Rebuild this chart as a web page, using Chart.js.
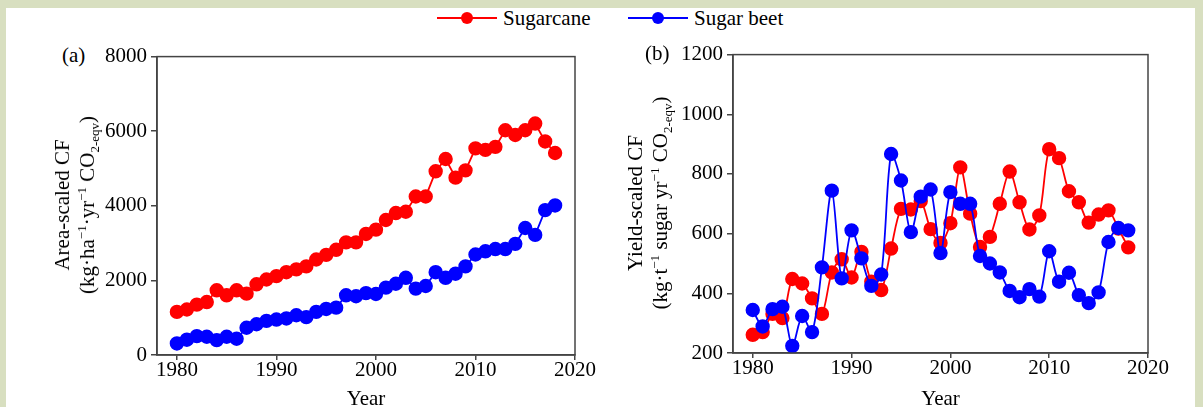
<!DOCTYPE html>
<html><head><meta charset="utf-8">
<script src="https://cdn.jsdelivr.net/npm/chart.js@4.4.0/dist/chart.umd.min.js"></script>
<style>
html,body{margin:0;padding:0;}
body{width:1203px;height:407px;background:#d8dfc0;position:relative;overflow:hidden;font-family:'Liberation Serif','Times New Roman',serif;color:#000;}
#panel{position:absolute;left:6px;top:8px;width:1189px;height:399px;background:#fff;}
.cv{position:absolute;}
.ytitle{position:absolute;transform:translate(-50%,-50%) rotate(-90deg);white-space:nowrap;text-align:center;font-size:21px;line-height:25px;}
sup,sub{font-size:0.62em;line-height:0;}
.lab{position:absolute;font-size:21px;line-height:24px;white-space:nowrap;}
.lline{position:absolute;height:2px;}
.ldot{position:absolute;width:12px;height:12px;border-radius:50%;}
</style></head>
<body>
<div id="panel"></div>
<div class="cv" style="left:90px;top:40px;width:510px;height:372px;"><canvas id="ca"></canvas></div>
<div class="cv" style="left:665px;top:38px;width:508px;height:374px;"><canvas id="cb"></canvas></div>

<div class="lline" style="left:437px;top:17px;width:60px;background:#ff0000;"></div>
<div class="ldot" style="left:461px;top:12px;background:#ff0000;"></div>
<div class="lab" style="left:503px;top:6px;">Sugarcane</div>
<div class="lline" style="left:628px;top:17px;width:60px;background:#0000ff;"></div>
<div class="ldot" style="left:652px;top:12px;background:#0000ff;"></div>
<div class="lab" style="left:694px;top:6px;">Sugar beet</div>

<div class="lab" style="left:62px;top:43px;">(a)</div>
<div class="lab" style="left:645px;top:41px;">(b)</div>

<div class="ytitle" style="left:75px;top:205px;">Area-scaled CF<br>(kg·ha<sup>−1</sup>·yr<sup>−1</sup> CO<sub>2-eqv</sub>)</div>
<div class="ytitle" style="left:648px;top:203px;">Yield-scaled CF<br>(kg·t<sup>−1</sup> sugar yr<sup>−1</sup> CO<sub>2-eqv</sub>)</div>

<script>
const years = [1980,1981,1982,1983,1984,1985,1986,1987,1988,1989,1990,1991,1992,1993,1994,1995,1996,1997,1998,1999,2000,2001,2002,2003,2004,2005,2006,2007,2008,2009,2010,2011,2012,2013,2014,2015,2016,2017,2018];
const xTicks = [1980,1990,2000,2010,2020];
const areaSugarcane = [1155,1220,1350,1420,1735,1600,1735,1645,1895,2025,2115,2220,2295,2375,2560,2685,2820,3020,3020,3245,3360,3620,3805,3840,4250,4250,4925,5255,4755,4950,5540,5500,5580,6025,5900,6025,6205,5725,5415];
const areaBeet = [310,410,505,490,400,490,435,730,825,915,950,980,1065,1015,1155,1235,1270,1600,1575,1660,1635,1805,1910,2070,1780,1850,2220,2070,2180,2375,2695,2780,2840,2840,2980,3405,3220,3885,4010];
const yieldSugarcane = [261,270,331,317,448,433,383,331,470,514,453,539,439,411,550,683,681,709,615,569,635,822,667,555,589,700,808,705,614,661,883,853,742,705,637,664,678,617,554];
const yieldBeet = [344,289,347,355,224,324,270,487,744,450,611,517,425,463,867,778,605,724,748,535,739,700,700,525,500,470,408,387,414,389,541,439,469,394,367,403,572,619,611];

const RED = '#ff0000', BLUE = '#0000ff', AX = '#444444';
const FONT = {family:"'Liberation Serif','Times New Roman',serif", size:21};

const boxPlugin = {
  id:'box',
  afterDraw(chart){
    const {ctx, chartArea:a} = chart;
    ctx.save();
    ctx.strokeStyle = AX; ctx.lineWidth = 1.5;
    ctx.strokeRect(a.left, a.top, a.right-a.left, a.bottom-a.top);
    ctx.restore();
  }
};

function pts(arr){ return years.map((y,i)=>({x:y, y:arr[i]})); }

function makeChart(id, red, blue, yMin, yMax, yStep, tension, yW, xH, pad){
  return new Chart(document.getElementById(id), {
    type:'line',
    data:{datasets:[
      {label:'Sugar beet', data:pts(blue), borderColor:BLUE, backgroundColor:BLUE, pointBackgroundColor:BLUE, pointBorderColor:BLUE, pointRadius:6.3, pointHoverRadius:6.3, borderWidth:1.8, tension:tension, order:0},
      {label:'Sugarcane', data:pts(red), borderColor:RED, backgroundColor:RED, pointBackgroundColor:RED, pointBorderColor:RED, pointRadius:6.3, pointHoverRadius:6.3, borderWidth:1.8, tension:tension, order:1}
    ]},
    options:{
      responsive:true, maintainAspectRatio:false, animation:false,
      layout:{padding:pad},
      plugins:{legend:{display:false}, tooltip:{enabled:false}},
      scales:{
        x:{type:'linear', min:1978, max:2020,
          afterBuildTicks(s){ s.ticks = xTicks.map(v=>({value:v})); },
          afterFit(s){ s.height = xH; },
          grid:{display:true, drawOnChartArea:false, drawTicks:true, tickLength:5, color:AX, lineWidth:1.5},
          border:{display:true, color:AX, width:1.5},
          ticks:{color:'#000', font:FONT, padding:-2, maxRotation:0, autoSkip:false, callback:v=>String(v)},
          title:{display:true, text:'Year', color:'#000', font:FONT, padding:{top:0,bottom:0}}
        },
        y:{min:yMin, max:yMax,
          afterBuildTicks(s){ const t=[]; for(let v=yMin; v<=yMax; v+=yStep) t.push({value:v}); s.ticks=t; },
          afterFit(s){ s.width = yW; },
          grid:{display:true, drawOnChartArea:false, drawTicks:true, tickLength:6, color:AX, lineWidth:1.5},
          border:{display:true, color:AX, width:1.5},
          ticks:{color:'#000', font:FONT, padding:4, callback:v=>String(v)}
        }
      }
    },
    plugins:[boxPlugin]
  });
}

makeChart('ca', areaSugarcane, areaBeet, 0, 8000, 2000, 0, 67, 57, {top:15, right:25, left:0, bottom:0});
makeChart('cb', yieldSugarcane, yieldBeet, 200, 1200, 200, 0.3, 68, 59, {top:15, right:25, left:0, bottom:0});
</script>
</body></html>
